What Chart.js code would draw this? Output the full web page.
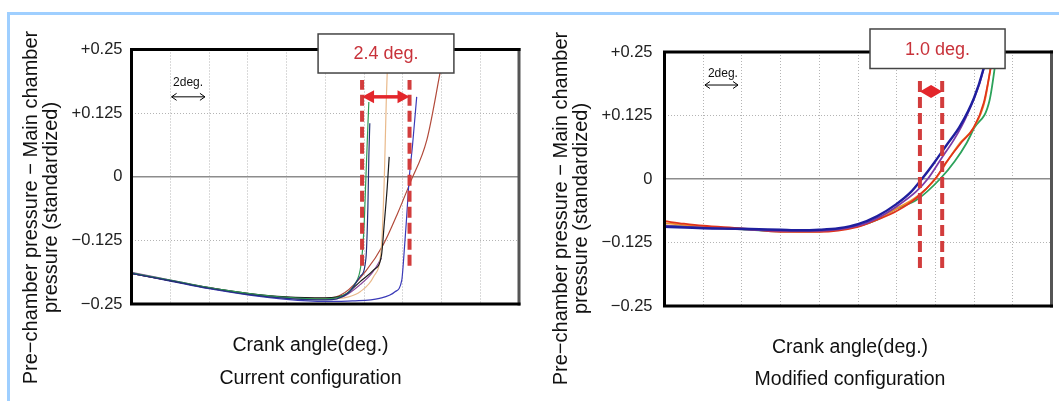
<!DOCTYPE html>
<html lang="en">
<head>
<meta charset="UTF-8">
<title>Pre-chamber pressure</title>
<style>
  html, body { margin: 0; padding: 0; background: #fff; overflow: hidden; }
  body { width: 1059px; height: 401px; position: relative; }
  .edge { position: absolute; left: 7px; top: 12px; width: 1200px; height: 600px;
          border-left: 3px solid #9fcfff; border-top: 3px solid #9fcfff; }
  canvas { position: absolute; top: 0; }
  #cur { left: 0; }
  #mod { left: 530px; }
</style>
</head>
<body>
<div class="edge"></div>
<canvas id="cur" width="600" height="395"></canvas>
<canvas id="mod" width="619" height="397"></canvas>
<script src="https://cdn.jsdelivr.net/npm/chart.js"></script>
<script>
// x = crank angle (deg, from left edge of plot, grid every 2 deg), y = standardized pressure difference
const yTicks = [-0.25, -0.125, 0, 0.125, 0.25];
const yTickText = ['−0.25', '−0.125', '0', '+0.125', '+0.25'];

// current configuration
const curGreen = [[0,-0.189],[2,-0.203],[4,-0.218],[6,-0.229],[8,-0.237],[10,-0.240],[11,-0.232],[11.5,-0.212],[11.85,-0.172],[12.0,-0.10],[12.1,0.0],[12.2,0.1],[12.25,0.147]];
const curNavy = [[0,-0.190],[2,-0.204],[4,-0.219],[6,-0.231],[8,-0.239],[10,-0.242],[11.2,-0.228],[11.8,-0.196],[12.1,-0.160],[12.2,-0.06],[12.25,0.04],[12.3,0.105]];
const curTan = [[0,-0.190],[2,-0.204],[4,-0.219],[6,-0.230],[8,-0.238],[10,-0.240],[11.2,-0.236],[11.8,-0.226],[12.5,-0.196],[12.9,-0.137],[13.05,0.0],[13.15,0.15],[13.25,0.26]];
const curBlack = [[0,-0.190],[2,-0.204],[4,-0.218],[6,-0.229],[8,-0.236],[10,-0.238],[11,-0.232],[11.8,-0.206],[12.5,-0.183],[12.9,-0.155],[13.05,-0.09],[13.2,-0.02],[13.3,0.039]];
const curBlue = [[0,-0.190],[2,-0.205],[4,-0.220],[6,-0.232],[8,-0.241],[10,-0.245],[11.4,-0.244],[12.8,-0.239],[13.6,-0.226],[13.95,-0.203],[14.03,-0.17],[14.2,-0.08],[14.34,0.0],[14.5,0.06],[14.72,0.157]];
const curBrown = [[0,-0.190],[2,-0.204],[4,-0.219],[6,-0.230],[8,-0.237],[10,-0.239],[11,-0.228],[12.1,-0.185],[13.0,-0.133],[13.7,-0.075],[14.37,-0.013],[15.24,0.072],[15.92,0.203],[16.2,0.26]];
const curPurple = [[0,-0.188],[2,-0.203],[4,-0.218],[6,-0.230],[8,-0.238],[10,-0.241],[11,-0.234],[11.8,-0.212],[12.4,-0.19],[12.9,-0.16]];
const curMarkX = [11.9, 14.35];   // 2.4 deg spread
const curMarkY = [-0.175, 0.19];

// modified configuration
const modBlue = [[0,-0.094],[2,-0.097],[4,-0.098],[6,-0.100],[7,-0.101],[8,-0.100],[9,-0.097],[10,-0.089],[11,-0.073],[12,-0.049],[12.7,-0.027],[13.3,0.0],[13.9,0.030],[14.6,0.068],[15.27,0.104],[16.0,0.160],[16.48,0.216],[16.8,0.27]];
const modPurple = [[0,-0.092],[2,-0.096],[4,-0.099],[6,-0.102],[8,-0.102],[10,-0.092],[11,-0.077],[12,-0.054],[13,-0.025],[13.6,0.0],[14.3,0.04],[15.0,0.08],[15.6,0.123],[16.3,0.19],[16.85,0.27]];
const modRed = [[0,-0.083],[1,-0.088],[2,-0.092],[4,-0.097],[6,-0.104],[8,-0.104],[10,-0.094],[11,-0.080],[12,-0.063],[13,-0.038],[13.98,0.0],[14.6,0.035],[15.3,0.07],[15.96,0.10],[16.5,0.15],[17.1,0.27]];
const modOrange = [[0,-0.087],[2,-0.094],[4,-0.098],[6,-0.102],[8,-0.103],[10,-0.093],[11,-0.079],[12,-0.058],[13,-0.036],[14.0,0.0],[14.7,0.04],[15.3,0.072],[15.96,0.10],[16.56,0.155],[17.05,0.27]];
const modGreen = [[0,-0.092],[2,-0.095],[4,-0.099],[6,-0.103],[8,-0.103],[10,-0.093],[11,-0.080],[12,-0.058],[13,-0.042],[14.24,0.0],[15.0,0.035],[15.6,0.07],[16.0,0.10],[16.8,0.155],[17.25,0.27]];
const modMarkX = [13.2, 14.35];   // 1.0 deg spread
const modMarkY = [-0.175, 0.199];

Chart.defaults.font.family = '"Liberation Sans", Arial, sans-serif';

function pts(arr) { return arr.map(p => ({x: p[0], y: p[1]})); }
function curve(arr, color, width) {
  return {data: pts(arr), borderColor: color, borderWidth: width, pointRadius: 0,
          cubicInterpolationMode: 'monotone', clip: 0};
}
function marker(x, ys) {
  return {data: [{x: x, y: ys[0]}, {x: x, y: ys[1]}], borderColor: '#d23c3c', borderWidth: 4,
          borderDash: [11, 5], pointRadius: 0, tension: 0, clip: false};
}

// frame, 2deg scale bar, red double arrow, label box
const marks = {
  id: 'marks',
  afterDatasetsDraw(chart, args, o) {
    const {ctx, chartArea: a} = chart;
    const X = v => chart.scales.x.getPixelForValue(v);
    const Y = v => chart.scales.y.getPixelForValue(v);
    ctx.save();
    ctx.lineWidth = 3;
    ctx.lineCap = 'square';
    ctx.strokeStyle = '#555';
    ctx.beginPath(); ctx.moveTo(a.right, a.top); ctx.lineTo(a.right, a.bottom); ctx.stroke();
    ctx.strokeStyle = '#000';
    ctx.beginPath();
    ctx.moveTo(a.right, a.top); ctx.lineTo(a.left, a.top); ctx.lineTo(a.left, a.bottom); ctx.lineTo(a.right, a.bottom);
    ctx.stroke();

    // 2 deg bar
    const b = o.bar;
    const bx0 = X(b.x[0]), bx1 = X(b.x[1]), by = Y(b.y);
    ctx.lineCap = 'butt';
    ctx.lineWidth = 1;
    ctx.strokeStyle = '#000';
    ctx.beginPath();
    ctx.moveTo(bx0, by); ctx.lineTo(bx1, by);
    ctx.moveTo(bx0 + 5, by - 3.5); ctx.lineTo(bx0, by); ctx.lineTo(bx0 + 5, by + 3.5);
    ctx.moveTo(bx1 - 5, by - 3.5); ctx.lineTo(bx1, by); ctx.lineTo(bx1 - 5, by + 3.5);
    ctx.stroke();
    ctx.fillStyle = '#111';
    ctx.font = '12px "Liberation Sans", Arial, sans-serif';
    ctx.textAlign = 'center';
    ctx.textBaseline = 'middle';
    ctx.fillText(b.text, X(b.textX), Y(b.textY));

    // red double arrow
    const rx0 = X(o.arrow.x[0]), rx1 = X(o.arrow.x[1]), ry = Y(o.arrow.y);
    const hl = Math.min(12, (rx1 - rx0) / 2), hw = 6.5;
    ctx.strokeStyle = ctx.fillStyle = '#e3262b';
    ctx.lineWidth = 3.5;
    ctx.beginPath(); ctx.moveTo(rx0 + hl - 2, ry); ctx.lineTo(rx1 - hl + 2, ry); ctx.stroke();
    ctx.beginPath();
    ctx.moveTo(rx0, ry); ctx.lineTo(rx0 + hl, ry - hw); ctx.lineTo(rx0 + hl, ry + hw); ctx.closePath();
    ctx.moveTo(rx1, ry); ctx.lineTo(rx1 - hl, ry - hw); ctx.lineTo(rx1 - hl, ry + hw); ctx.closePath();
    ctx.fill();

    // label box
    const bl = X(o.box.x[0]), br = X(o.box.x[1]), bt = Y(o.box.y[0]), bb = Y(o.box.y[1]);
    ctx.fillStyle = '#fff';
    ctx.fillRect(bl, bt, br - bl, bb - bt);
    ctx.lineWidth = 1.5;
    ctx.strokeStyle = '#444';
    ctx.strokeRect(bl, bt, br - bl, bb - bt);
    ctx.fillStyle = '#c8323a';
    ctx.font = '18px "Liberation Sans", Arial, sans-serif';
    ctx.fillText(o.box.text, (bl + br) / 2, (bt + bb) / 2 + 1);
    ctx.restore();
  }
};

function build(id, o) {
  return new Chart(document.getElementById(id), {
    type: 'line',
    data: {datasets: o.datasets},
    options: {
      responsive: false,
      animation: false,
      devicePixelRatio: 1,
      events: [],
      layout: {padding: {left: 21, right: 0, top: 20, bottom: 0}},
      plugins: {
        legend: {display: false},
        tooltip: {enabled: false},
        title: {
          display: true, position: 'left', color: '#111', padding: 0,
          text: ['Pre−chamber pressure − Main chamber', 'pressure (standardized)'],
          font: {size: 20, weight: 'normal', lineHeight: 1.03}
        },
        subtitle: {
          display: true, position: 'bottom', color: '#111',
          text: ['Crank angle(deg.)', o.caption],
          font: {size: 19.5, weight: 'normal', lineHeight: o.capLine},
          padding: {top: o.capTop, bottom: o.capBottom}
        },
        marks: o.marks
      },
      scales: {
        x: {
          type: 'linear', min: 0, max: 20,
          ticks: {display: false, stepSize: 2},
          grid: {drawTicks: false, color: '#b4b4b4', lineWidth: 1},
          border: {display: false, dash: [1, 2]}
        },
        y: {
          type: 'linear', min: -0.25, max: 0.25,
          afterBuildTicks: s => { s.ticks = yTicks.map(v => ({value: v})); },
          ticks: {callback: v => yTickText[yTicks.indexOf(v)], font: {size: 16.5}, color: '#222', padding: o.tickPad},
          grid: {
            drawTicks: false,
            color: c => (c.tick && c.tick.value === 0 ? '#8c8c8c' : '#b4b4b4'),
            lineWidth: c => (c.tick && c.tick.value === 0 ? 1.5 : 1)
          },
          border: {display: false, dash: c => (c.tick && c.tick.value === 0 ? [] : [1, 2])},
          afterFit: s => { s.width = o.yWidth; }
        },
        x2: {
          type: 'linear', position: 'top',
          ticks: {display: false}, grid: {display: false}, border: {display: false},
          afterFit: s => { s.height = o.topGap; }
        },
        y2: {
          type: 'linear', position: 'right',
          ticks: {display: false}, grid: {display: false}, border: {display: false},
          afterFit: s => { s.width = o.rightGap; }
        }
      }
    },
    plugins: [marks]
  });
}

build('cur', {
  caption: 'Current configuration',
  capLine: 33 / 19.5, capTop: 25, capBottom: 0,
  tickPad: 9, yWidth: 69.3, topGap: 29.5, rightGap: 81,
  datasets: [
    marker(curMarkX[0], curMarkY), marker(curMarkX[1], curMarkY),
    curve(curNavy, '#24307a', 1.2),
    curve(curGreen, '#2e9a52', 1.2),
    curve(curBlack, '#1c1c1c', 1.2),
    curve(curBlue, '#3a3ab8', 1.2),
    curve(curTan, '#e9b98a', 1.2),
    curve(curBrown, '#b24a3a', 1.2),
    curve(curPurple, '#8a4a9a', 1.2)
  ],
  marks: {
    bar: {x: [2.07, 3.79], y: 0.157, textX: 2.92, textY: 0.184, text: '2deg.'},
    arrow: {x: curMarkX, y: 0.157},
    box: {x: [9.63, 16.64], y: [0.2805, 0.2038], text: '2.4 deg.'}
  }
});

build('mod', {
  caption: 'Modified configuration',
  capLine: 32.5 / 19.5, capTop: 25.25, capBottom: 0.75,
  tickPad: 12, yWidth: 72.3, topGap: 32, rightGap: 97.5,
  datasets: [
    marker(modMarkX[0], modMarkY), marker(modMarkX[1], modMarkY),
    curve(modBlue, '#1f1f9e', 2.4),
    curve(modPurple, '#7a3aa8', 1.8),
    curve(modRed, '#e0341c', 1.8),
    curve(modOrange, '#f0902e', 1.8),
    curve(modGreen, '#2ca25a', 1.8)
  ],
  marks: {
    bar: {x: [2.09, 3.8], y: 0.185, textX: 3.02, textY: 0.207, text: '2deg.'},
    arrow: {x: modMarkX, y: 0.172},
    box: {x: [10.62, 17.6], y: [0.2953, 0.2175], text: '1.0 deg.'}
  }
});
</script>
</body>
</html>
